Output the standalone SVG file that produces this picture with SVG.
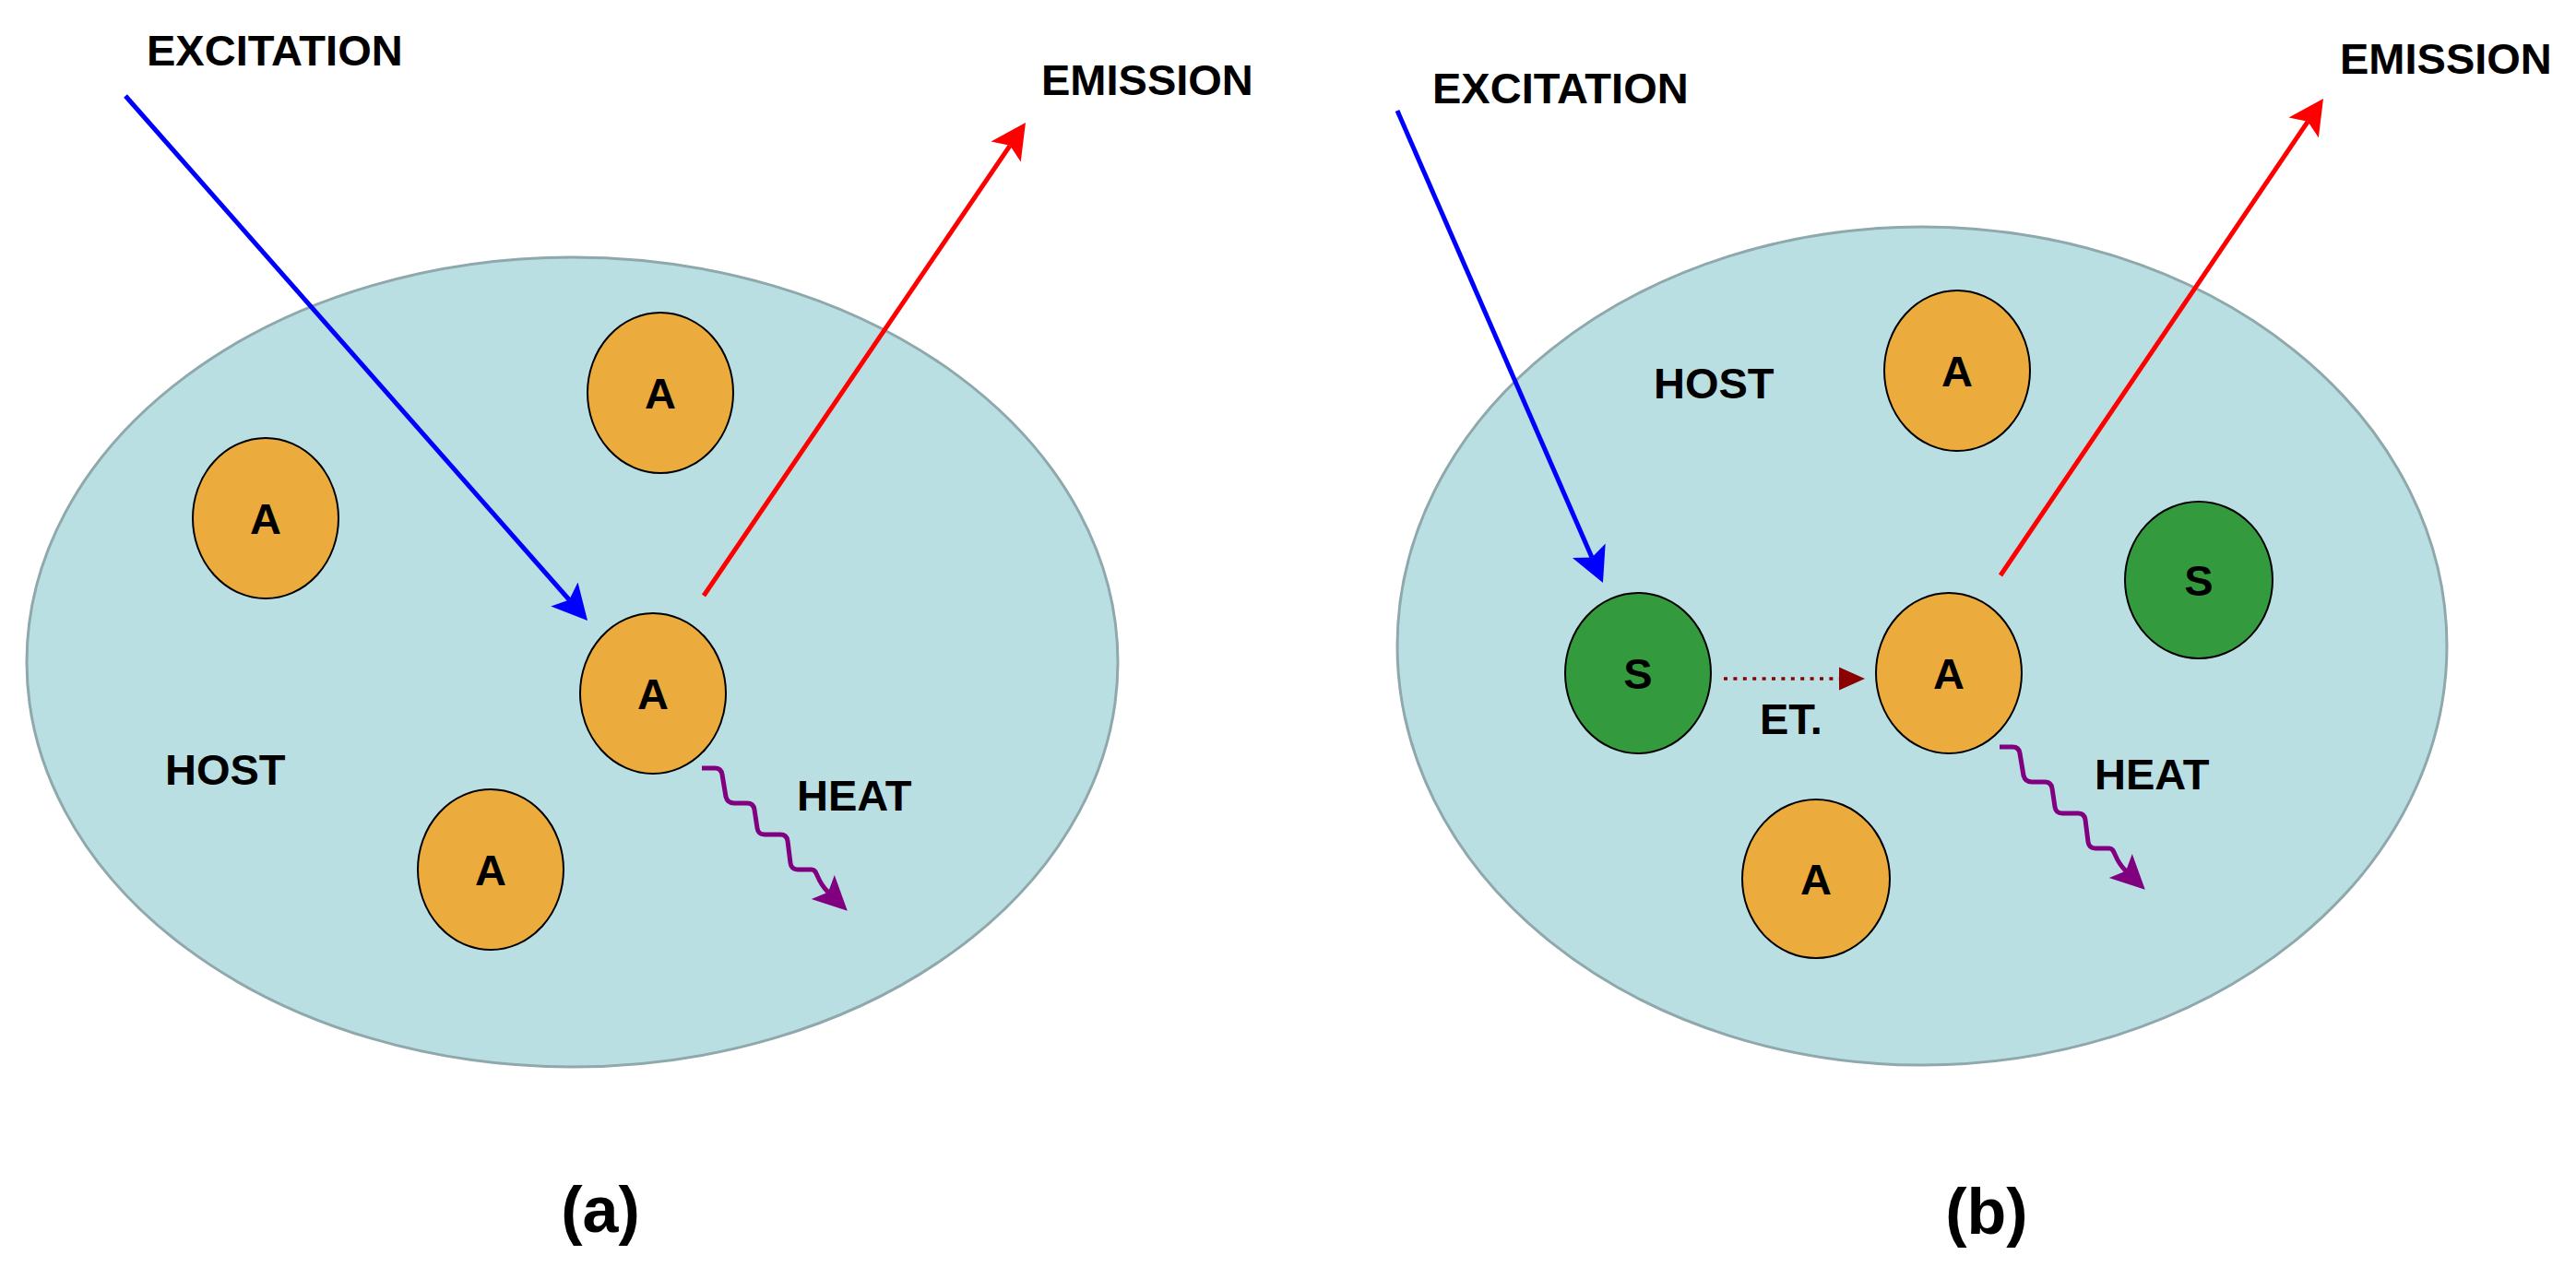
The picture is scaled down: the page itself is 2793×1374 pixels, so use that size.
<svg xmlns="http://www.w3.org/2000/svg" width="2793" height="1374" viewBox="0 0 2793 1374">
<style>
.bg{fill:#ffffff}
.host{fill:#BADFE3;stroke:#8FA8AB;stroke-width:3}
.a{fill:#EBAB3D;stroke:#000;stroke-width:2}
.s{fill:#339A3E;stroke:#000;stroke-width:2}
.t{font-family:"Liberation Sans",Arial,sans-serif;font-weight:bold;font-size:47px;fill:#000}
.lab{font-family:"Liberation Sans",Arial,sans-serif;font-weight:bold;font-size:47px;fill:#000;text-anchor:middle}
.cap{font-family:"Liberation Sans",Arial,sans-serif;font-weight:bold;font-size:70px;fill:#000;text-anchor:middle}
.blue{fill:none;stroke:#0000FF;stroke-width:5}
.red{fill:none;stroke:#FF0000;stroke-width:5}
.heat{fill:none;stroke:#800080;stroke-width:5;stroke-linejoin:round}
.et{fill:none;stroke:#8B0000;stroke-width:3.5;stroke-dasharray:4 6.4}
</style>
<defs>
<marker id="mBlue" markerUnits="userSpaceOnUse" markerWidth="40" markerHeight="40" viewBox="0 -20 40 40" refX="8" refY="0" orient="auto" overflow="visible"><path d="M0,-19.5 L38,0 L0,19.5 L8,0 Z" fill="#0000FF"/></marker>
<marker id="mRed" markerUnits="userSpaceOnUse" markerWidth="40" markerHeight="40" viewBox="0 -20 40 40" refX="8" refY="0" orient="auto" overflow="visible"><path d="M0,-19.5 L38,0 L0,19.5 L8,0 Z" fill="#FF0000"/></marker>
<marker id="mHeat" markerUnits="userSpaceOnUse" markerWidth="40" markerHeight="40" viewBox="0 -20 40 40" refX="8" refY="0" orient="auto" overflow="visible"><path d="M0,-18 L37,0 L0,18 L8,0 Z" fill="#800080"/></marker>
<marker id="mEt" markerUnits="userSpaceOnUse" markerWidth="30" markerHeight="30" viewBox="0 -15 30 30" refX="0" refY="0" orient="auto" overflow="visible"><path d="M0,-12.5 L28,0 L0,12.5 Z" fill="#8B0000"/></marker>
</defs>
<rect class="bg" x="0" y="0" width="2793" height="1374"/>

<g id="host-a"><ellipse class="host" cx="620.5" cy="718" rx="591.5" ry="439"/><text class="t" x="179" y="851">HOST</text></g>
<g id="host-b"><ellipse class="host" cx="2084" cy="700.5" rx="569" ry="454.5"/><text class="t" x="1793" y="432">HOST</text></g>

<g id="a1"><ellipse class="a" cx="716" cy="426" rx="79" ry="87"/><text class="lab" x="716" y="443">A</text></g>
<g id="a2"><ellipse class="a" cx="288" cy="562" rx="79" ry="87"/><text class="lab" x="288" y="579">A</text></g>
<g id="a3"><ellipse class="a" cx="708" cy="752" rx="79" ry="87"/><text class="lab" x="708" y="769">A</text></g>
<g id="a4"><ellipse class="a" cx="532" cy="943" rx="79" ry="87"/><text class="lab" x="532" y="960">A</text></g>

<g id="b-a1"><ellipse class="a" cx="2122" cy="402" rx="79" ry="87"/><text class="lab" x="2122" y="419">A</text></g>
<g id="b-s1"><ellipse class="s" cx="1776" cy="730" rx="79" ry="87"/><text class="lab" x="1776" y="747">S</text></g>
<g id="b-a2"><ellipse class="a" cx="2113" cy="730" rx="79" ry="87"/><text class="lab" x="2113" y="747">A</text></g>
<g id="b-s2"><ellipse class="s" cx="2384" cy="629" rx="80" ry="85"/><text class="lab" x="2384" y="646">S</text></g>
<g id="b-a3"><ellipse class="a" cx="1969" cy="953" rx="80" ry="86"/><text class="lab" x="1969" y="970">A</text></g>

<g id="connectors">
<path class="blue" d="M136,104 L617.2,650.5" marker-end="url(#mBlue)"/>
<path class="red" d="M763,646 L1095.1,157.8" marker-end="url(#mRed)"/>
<path class="heat" d="M761,833 H775 Q782,833 783,840 L787,864 Q789,871 796,871 H810 Q817,871 818,878 L821,898 Q822,905 829,905 H846 Q853,905 854,912 L857,936 Q858,943 865,943 H880 C887,943 884,954 898,967.6" marker-end="url(#mHeat)"/>
<path class="blue" d="M1515,120 L1726,604.5" marker-end="url(#mBlue)"/>
<path class="red" d="M2169,624 L2502.2,131.8" marker-end="url(#mRed)"/>
<path class="et" d="M1869,736 H1994" marker-end="url(#mEt)"/>
<g transform="translate(1407,-23)"><path class="heat" d="M761,833 H775 Q782,833 783,840 L787,864 Q789,871 796,871 H810 Q817,871 818,878 L821,898 Q822,905 829,905 H846 Q853,905 854,912 L857,936 Q858,943 865,943 H880 C887,943 884,954 898,967.6" marker-end="url(#mHeat)"/></g>
</g>

<g id="labels">
<text class="t" x="159" y="71">EXCITATION</text>
<text class="t" x="1129" y="103">EMISSION</text>
<text class="t" x="864" y="879">HEAT</text>
<text class="t" x="1553" y="112">EXCITATION</text>
<text class="t" x="2537" y="80">EMISSION</text>
<text class="t" x="1908" y="796">ET.</text>
<text class="t" x="2271" y="856">HEAT</text>
<text class="cap" x="651" y="1336">(a)</text>
<text class="cap" x="2154" y="1338">(b)</text>
</g>
</svg>
